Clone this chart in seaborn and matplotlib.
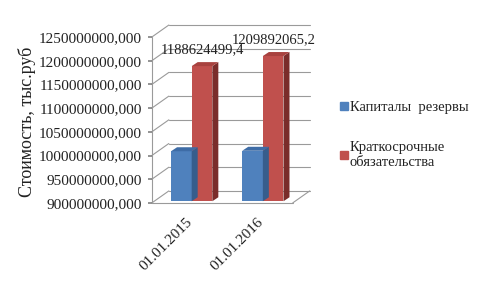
import numpy as np
import pandas as pd
import matplotlib
matplotlib.use("Agg")
import matplotlib.pyplot as plt
import matplotlib.transforms as mtransforms
from matplotlib.patches import Polygon
from matplotlib.lines import Line2D
from matplotlib.ticker import FuncFormatter, MultipleLocator
import seaborn as sns

dates = ["01.01.2015", "01.01.2016"]
series = ["Капиталы  резервы", "Краткосрочные\nобязательства"]
capital = [1009000000.0, 1010000000.0]
shortterm = [1188624499.4, 1209892065.2]
value_labels = ["1188624499,4", "1209892065,2"]
ylabel = "Стоимость, тыс.руб"

df = pd.DataFrame({
    "date": dates * 2,
    "series": [series[0]] * 2 + [series[1]] * 2,
    "value": capital + shortterm,
})

sns.set_theme(style="white")
plt.rcParams["font.family"] = ["Liberation Serif", "DejaVu Serif"]

front = {series[0]: "#4F81BD", series[1]: "#C0504D"}
side = {series[0]: "#375D8C", series[1]: "#7A2D2B"}
top = {series[0]: "#3E6CA6", series[1]: "#A8423F"}

fig = plt.figure(figsize=(4.79, 2.87), dpi=100)
ax = fig.add_axes([0.317, 0.293, 0.309, 0.578])
ax.patch.set_visible(False)
sns.barplot(data=df, x="date", y="value", hue="series", palette=front,
            width=0.58, ax=ax, legend=False, saturation=1, edgecolor="none")

ymin, ymax = 900000000, 1250000000
ax.set_ylim(ymin, ymax)
ax.set_xlim(-0.56, 1.52)
ax.yaxis.set_major_locator(MultipleLocator(50000000))
ax.yaxis.set_major_formatter(FuncFormatter(lambda v, p: f"{v:.3f}".replace(".", ",")))
for s in ax.spines.values():
    s.set_visible(False)
ax.tick_params(axis="y", labelsize=11, colors="#222222", length=3, color="#868686", pad=4, left=True)
ax.tick_params(axis="x", labelsize=11, colors="#222222", length=0, pad=7)
shift = mtransforms.ScaledTranslation(-6 / 100, -3 / 100, fig.dpi_scale_trans)
for lab in ax.get_xticklabels():
    lab.set_rotation(45)
    lab.set_ha("right")
    lab.set_rotation_mode("anchor")
    lab.set_transform(lab.get_transform() + shift)
ax.set_xlabel("")
ax.set_ylabel(ylabel, fontsize=13, color="#222222")
ax.yaxis.set_label_coords(-0.78, 0.49)

# 3D-like walls: depth offsets in pixels
wall_dx, wall_dy = 17, 12
gray = "#9A9A9A"
back = mtransforms.offset_copy(ax.transData, fig=fig, x=wall_dx, y=wall_dy, units="dots")
x0, x1 = ax.get_xlim()
xr = x1 - 0.1
inv = fig.transFigure.inverted()
for t in np.arange(ymin, ymax + 1, 50000000):
    ax.plot([x0, xr], [t, t], transform=back, color=gray, lw=0.8, clip_on=False, zorder=0)
    p0 = ax.transData.transform((x0, t))
    p1 = p0 + np.array([wall_dx, wall_dy])
    q0, q1 = inv.transform(p0), inv.transform(p1)
    fig.add_artist(Line2D([q0[0], q1[0]], [q0[1], q1[1]], color=gray, lw=0.8, zorder=0))
ax.plot([x0, x0], [ymin, ymax], color=gray, lw=0.8, clip_on=False, zorder=0)
ax.plot([x0, xr], [ymin, ymin], color=gray, lw=0.8, clip_on=False, zorder=0)
pa = ax.transData.transform((xr, ymin))
pb = pa + np.array([wall_dx, wall_dy])
qa, qb = inv.transform(pa), inv.transform(pb)
fig.add_artist(Line2D([qa[0], qb[0]], [qa[1], qb[1]], color=gray, lw=0.8, zorder=0))

# bar depth faces
bdx, bdy = 6, 4
patches = [p for p in ax.patches if p.get_height() > 0]
order = sorted(patches, key=lambda p: p.get_x())
blue_rgb = matplotlib.colors.to_rgba(front[series[0]])
for p in order:
    fc = p.get_facecolor()
    name = series[0] if abs(fc[2] - blue_rgb[2]) < 0.05 else series[1]
    xl, w, h = p.get_x(), p.get_width(), p.get_height()
    yb = ymin + (ymax - ymin) * 0.01
    p.set_y(yb)
    p.set_height(h - yb)
    disp = lambda x, y: ax.transData.transform((x, y))
    bl, br, tr, tl = disp(xl, yb), disp(xl + w, yb), disp(xl + w, h), disp(xl, h)
    off = np.array([bdx, bdy])
    side_poly = np.array([br, br + off, tr + off, tr])
    top_poly = np.array([tl, tr, tr + off, tl + off])
    for poly, col in ((side_poly, side[name]), (top_poly, top[name])):
        ax.add_patch(Polygon(poly, closed=True, transform=None, facecolor=col,
                             edgecolor="none", zorder=3, clip_on=False))
    p.set_zorder(3)
    p.set_clip_on(False)

red_bars = [p for p in order if p.get_facecolor()[0] > 0.6]
for p, txt in zip(red_bars, value_labels):
    ax.annotate(txt, (p.get_x() + p.get_width() / 2, p.get_y() + p.get_height()),
                xytext=(0, 7), textcoords="offset points", ha="center", va="bottom",
                fontsize=10.5, color="#222222", annotation_clip=False)

handles = [Line2D([], [], marker="s", ls="none", markersize=6, color=front[s]) for s in series]
fig.legend(handles, series, loc="center left", bbox_to_anchor=(0.709, 0.53),
           frameon=False, fontsize=10.5, handlelength=0.6, handletextpad=0.1,
           labelspacing=1.8, labelcolor="#222222", borderaxespad=0, borderpad=0)

fig.savefig("out.png", dpi=100)
